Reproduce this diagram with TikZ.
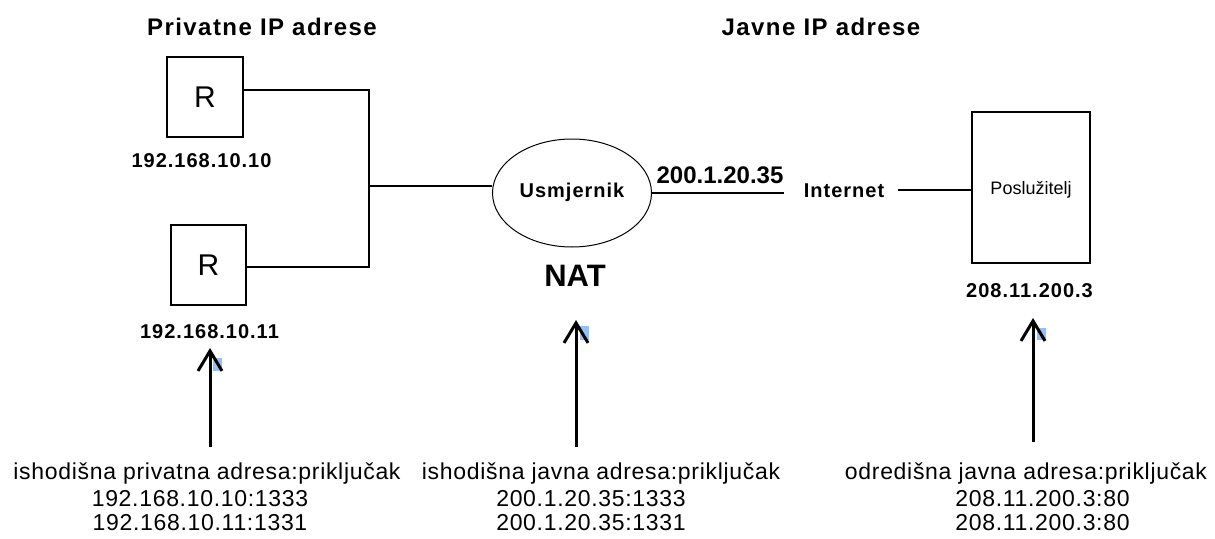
\documentclass[tikz,border=0pt]{standalone}
\usepackage{fontspec}
\setmainfont{Liberation Sans}
\usetikzlibrary{arrows.meta,shapes.geometric}
\definecolor{handleblue}{RGB}{150,192,245}
\begin{document}
\begin{tikzpicture}[x=1pt,y=-1pt,
  lw/.style={line width=1.2pt},
  boxnode/.style={draw,lw,rectangle,inner sep=0pt},
  heading/.style={anchor=base,inner sep=0pt,font=\fontsize{24}{24}\selectfont\bfseries\addfontfeatures{LetterSpace=6}},
  iplabel/.style={anchor=base,inner sep=0pt,font=\fontsize{20}{20}\selectfont\bfseries\addfontfeatures{LetterSpace=5}},
  pubip/.style={anchor=base,inner sep=0pt,font=\fontsize{24}{24}\selectfont\bfseries},
  natlabel/.style={anchor=base,inner sep=0pt,font=\fontsize{31}{31}\selectfont\bfseries},
  bottomtext/.style={anchor=base,inner sep=0pt,font=\fontsize{23}{23}\selectfont\addfontfeatures{LetterSpace=3}},
  arr/.style={line width=3pt,-{Straight Barb[length=20pt,width=24pt,line width=3pt]}},
  handle/.style={fill=handleblue,draw=none}
]
\useasboundingbox (0,0) rectangle (1215,538);

% headings
\node[heading] (hpriv) at (262,35) {Privatne IP adrese};
\node[heading] (hpub) at (821,35) {Javne IP adrese};

% hosts
\node[boxnode,minimum width=76,minimum height=80,font=\fontsize{30}{30}\selectfont] (r1) at (205,97) {R};
\node[boxnode,minimum width=75,minimum height=80,font=\fontsize{30}{30}\selectfont] (r2) at (208.5,265) {R};
\node[iplabel] (ip1) at (201.5,167) {192.168.10.10};
\node[iplabel] (ip2) at (209.5,338) {192.168.10.11};

% router
\node[draw,line width=1pt,ellipse,minimum width=159,minimum height=108,inner sep=0pt,
      text height=13,text depth=5,font=\fontsize{20}{20}\selectfont\bfseries\addfontfeatures{LetterSpace=5}] (ell) at (572,193) {Usmjernik};
\node[natlabel] (nat) at (575,286) {NAT};
\node[pubip] (pip) at (720,183) {200.1.20.35};

% internet and server
\node[iplabel] (inet) at (844,197) {Internet};
\node[boxnode,minimum width=118,minimum height=151,text height=13,text depth=0,
      font=\fontsize{18}{18}\selectfont] (srv) at (1031,187.5) {Poslužitelj};
\node[iplabel] (sip) at (1029.5,297) {208.11.200.3};

% connectors
\coordinate (j1) at (369,90);
\coordinate (j2) at (369,267);
\coordinate (jm) at (369,186);
\draw[lw] (r1.east |- j1) -- (j1) -- (j2) -- (r2.east |- j2);
\draw[lw] (jm) -- (jm -| ell.west);
\coordinate (wend) at (784,193);
\draw[lw] (ell.east) -- (wend);
\coordinate (istart) at (898,190);
\draw[lw] (istart) -- (istart -| srv.west);

% selection handles
\fill[handle] (213,358) rectangle (222,371);
\fill[handle] (580,326) rectangle (589,340);
\fill[handle] (1037,328) rectangle (1046,340);

% arrows
\coordinate (a1s) at (210,447); \coordinate (a1e) at (210,348);
\coordinate (a2s) at (576,447); \coordinate (a2e) at (576,320);
\coordinate (a3s) at (1033,442); \coordinate (a3e) at (1033,318);
\draw[arr] (a1s) -- (a1e);
\draw[arr] (a2s) -- (a2e);
\draw[arr] (a3s) -- (a3e);

% bottom texts
\node[bottomtext] (t1) at (207,479) {ishodišna privatna adresa:priključak};
\node[bottomtext] (t1a) at (200,506) {192.168.10.10:1333};
\node[bottomtext] (t1b) at (200,530) {192.168.10.11:1331};
\node[bottomtext] (t2) at (601,479) {ishodišna javna adresa:priključak};
\node[bottomtext] (t2a) at (591,506) {200.1.20.35:1333};
\node[bottomtext] (t2b) at (591,530) {200.1.20.35:1331};
\node[bottomtext] (t3) at (1026,479) {odredišna javna adresa:priključak};
\node[bottomtext] (t3a) at (1042.5,506) {208.11.200.3:80};
\node[bottomtext] (t3b) at (1042.5,530) {208.11.200.3:80};
\end{tikzpicture}
\end{document}
